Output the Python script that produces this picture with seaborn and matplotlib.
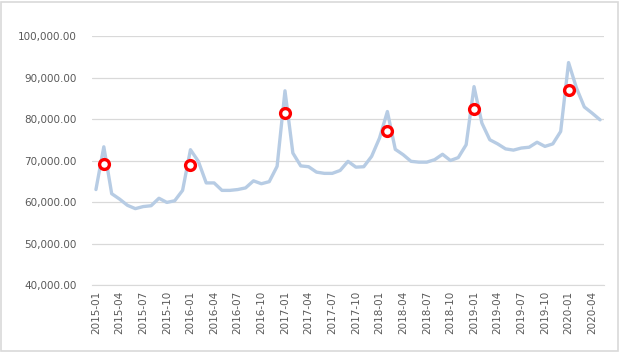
import pandas as pd
import matplotlib.pyplot as plt
import matplotlib.patches as mpatches
import seaborn as sns

# Dados mensais
meses = pd.period_range("2015-01", "2020-05", freq="M").strftime("%Y-%m").tolist()
valores = [
    63000, 73300, 62000, 60700, 59200, 58400, 58900, 59100, 60900, 59900, 60300, 62800,
    72600, 69800, 64600, 64600, 62800, 62800, 63000, 63400, 65100, 64400, 64900, 68600,
    86800, 71800, 68700, 68500, 67200, 66900, 66900, 67600, 69800, 68400, 68500, 71000,
    75400, 81800, 72700, 71400, 69800, 69600, 69600, 70200, 71500, 70000, 70700, 73800,
    87800, 79000, 75000, 74000, 72800, 72500, 73000, 73200, 74400, 73400, 74000, 77000,
    93600, 87500, 82900, 81400, 79800,
]

# Pontos destacados (círculos vermelhos)
meses_destaque = ["2015-02", "2016-01", "2017-01", "2018-02", "2019-01", "2020-01"]
valores_destaque = [69200, 68900, 81500, 77150, 82400, 87000]

yticks = [40000, 50000, 60000, 70000, 80000, 90000, 100000]

df = pd.DataFrame({"mes": meses, "valor": valores})
df_destaque = pd.DataFrame({"mes": meses_destaque, "valor": valores_destaque})

sns.set_style("white")
plt.rcParams["font.family"] = ["DejaVu Sans"]

fig = plt.figure(figsize=(6.24, 3.53), dpi=100)
ax = fig.add_axes([92 / 624, 1 - 285 / 353, 512 / 624, 249 / 353])

sns.lineplot(data=df, x="mes", y="valor", color="#B7CCE4", linewidth=2.4, ax=ax, sort=False)
sns.scatterplot(data=df_destaque, x="mes", y="valor", marker="o", s=50,
                facecolor="white", edgecolor="#FF0000", linewidth=2.4, zorder=5, ax=ax)

ax.set_xlim(-0.5, len(meses) - 0.5)
ax.set_ylim(40000, 100000)
ax.set_yticks(yticks)
ax.set_yticklabels([f"{v:,.2f}" for v in yticks], fontsize=7.5, color="#595959")
ax.set_xticks(range(0, len(meses), 3))
ax.set_xticklabels(meses[::3], rotation=90, fontsize=7.5, color="#595959")
ax.tick_params(axis="both", length=0, pad=4)
ax.tick_params(axis="y", pad=11)
ax.grid(axis="y", color="#D9D9D9", linewidth=0.9)
ax.set_axisbelow(True)
for lado in ["top", "right", "left"]:
    ax.spines[lado].set_visible(False)
ax.spines["bottom"].set_color("#D9D9D9")
ax.set_xlabel("")
ax.set_ylabel("")

# Moldura do gráfico
fig.patches.append(mpatches.Rectangle((1 / 624, 2 / 353), 617 / 624, 349 / 353,
                                      transform=fig.transFigure, fill=False,
                                      edgecolor="#D9D9D9", linewidth=1.2))

fig.savefig("out.png", dpi=100)
